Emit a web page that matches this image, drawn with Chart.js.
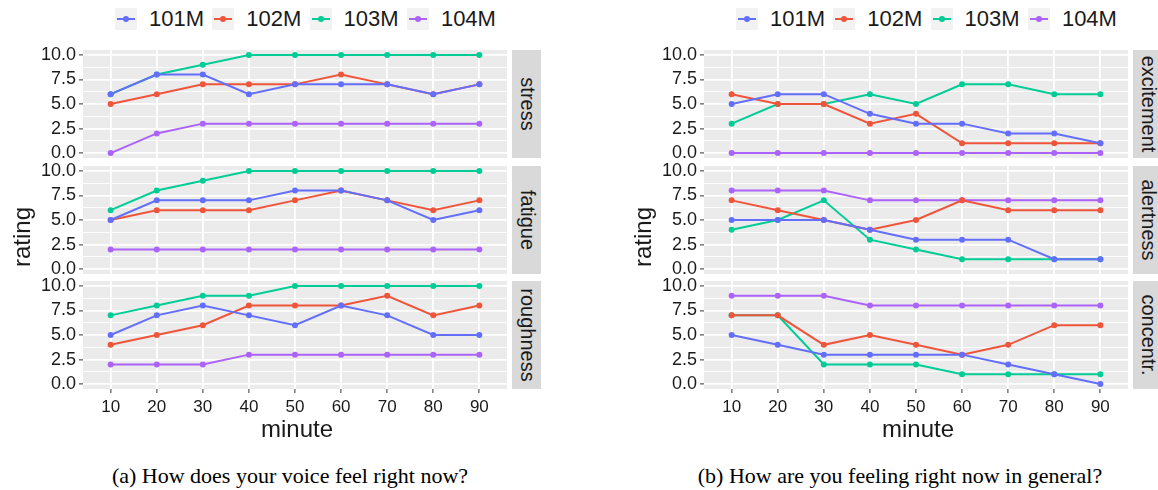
<!DOCTYPE html>
<html>
<head>
<meta charset="utf-8">
<script src="https://cdn.jsdelivr.net/npm/chart.js@4/dist/chart.umd.min.js"></script>
<style>
body { margin: 0; background: #fff; width: 1158px; height: 490px; position: relative; overflow: hidden;
  font-family: "Liberation Sans", Arial, sans-serif; color: #1a1a1a; }
canvas { position: absolute; }
.strip { position: absolute; background: #d9d9d9; width: 29px; height: 108px; }
.strip span { position: absolute; left: 50%; top: 50%; transform: translate(-50%, -50%) rotate(90deg);
  font-size: 20px; white-space: nowrap; }
.key { position: absolute; top: 8px; width: 22px; height: 22px; background: #f2f2f2; }
.key i { position: absolute; left: 2px; right: 2px; top: 10px; height: 1.8px; }
.key b { position: absolute; left: 8px; top: 8px; width: 6px; height: 6px; border-radius: 50%; }
.keytext { position: absolute; top: 8px; line-height: 22px; font-size: 22px; }
.xtitle { position: absolute; width: 200px; text-align: center; top: 415px; line-height: 28px; font-size: 24px; }
.ytitle { position: absolute; width: 120px; text-align: center; line-height: 28px; font-size: 24px;
  transform: translate(-50%, -50%) rotate(-90deg); }
.caption { position: absolute; width: 560px; text-align: center; top: 463px; line-height: 26px;
  font-family: "Liberation Serif", "Times New Roman", serif; font-size: 22px; color: #000; }
</style>
</head>
<body>
<script>
var minutes = [10, 20, 30, 40, 50, 60, 70, 80, 90];
var subjects = ["101M", "102M", "103M", "104M"];
var subjectColors = ["#636EFA", "#EF553B", "#00CC96", "#AB63FA"];
var yMajor = [0, 2.5, 5, 7.5, 10];
var yMinor = [1.25, 3.75, 6.25, 8.75];

// (a) voice, one row per subject
var stress = [
  [6, 8, 8, 6, 7, 7, 7, 6, 7],
  [5, 6, 7, 7, 7, 8, 7, 6, 7],
  [6, 8, 9, 10, 10, 10, 10, 10, 10],
  [0, 2, 3, 3, 3, 3, 3, 3, 3]
];
var fatigue = [
  [5, 7, 7, 7, 8, 8, 7, 5, 6],
  [5, 6, 6, 6, 7, 8, 7, 6, 7],
  [6, 8, 9, 10, 10, 10, 10, 10, 10],
  [2, 2, 2, 2, 2, 2, 2, 2, 2]
];
var roughness = [
  [5, 7, 8, 7, 6, 8, 7, 5, 5],
  [4, 5, 6, 8, 8, 8, 9, 7, 8],
  [7, 8, 9, 9, 10, 10, 10, 10, 10],
  [2, 2, 2, 3, 3, 3, 3, 3, 3]
];
// (b) general feeling
var excitement = [
  [5, 6, 6, 4, 3, 3, 2, 2, 1],
  [6, 5, 5, 3, 4, 1, 1, 1, 1],
  [3, 5, 5, 6, 5, 7, 7, 6, 6],
  [0, 0, 0, 0, 0, 0, 0, 0, 0]
];
var alertness = [
  [5, 5, 5, 4, 3, 3, 3, 1, 1],
  [7, 6, 5, 4, 5, 7, 6, 6, 6],
  [4, 5, 7, 3, 2, 1, 1, 1, 1],
  [8, 8, 8, 7, 7, 7, 7, 7, 7]
];
var concentr = [
  [5, 4, 3, 3, 3, 3, 2, 1, 0],
  [7, 7, 4, 5, 4, 3, 4, 6, 6],
  [7, 7, 2, 2, 2, 1, 1, 1, 1],
  [9, 9, 9, 8, 8, 8, 8, 8, 8]
];

var panels = [
  { x0: 0, names: ["stress", "fatigue", "roughness"], values: [stress, fatigue, roughness],
    caption: "(a) How does your voice feel right now?", capX: 290 },
  { x0: 621, names: ["excitement", "alertness", "concentr."], values: [excitement, alertness, concentr],
    caption: "(b) How are you feeling right now in general?", capX: 900 }
];

Chart.defaults.font.family = '"Liberation Sans", Arial, sans-serif';
Chart.defaults.color = "#1a1a1a";

var panelBg = {
  id: "panelBg",
  beforeDraw: function(chart) {
    var a = chart.chartArea, g = chart.ctx;
    g.save();
    g.fillStyle = "#EBEBEB";
    g.fillRect(a.left, a.top, a.right - a.left, a.bottom - a.top);
    g.restore();
  }
};

function isMajor(ctx) {
  return ctx.tick && yMajor.indexOf(ctx.tick.value) >= 0;
}

function makeFacet(left, top, rows, bottom) {
  var padTop = 12, xAxisH = bottom ? 30 : 0;
  var w = 511, h = padTop + 108 + (bottom ? xAxisH : 12);
  var c = document.createElement("canvas");
  c.width = w; c.height = h;
  c.style.left = left + "px"; c.style.top = (top - padTop) + "px";
  c.style.width = w + "px"; c.style.height = h + "px";
  document.body.appendChild(c);

  var datasets = rows.map(function(vals, i) {
    return {
      label: subjects[i],
      data: minutes.map(function(m, j) { return { x: m, y: vals[j] }; }),
      borderColor: subjectColors[i],
      backgroundColor: subjectColors[i],
      borderWidth: 2,
      pointRadius: 3,
      pointBorderWidth: 0,
      tension: 0
    };
  });

  new Chart(c, {
    type: "line",
    data: { datasets: datasets },
    plugins: [panelBg],
    options: {
      responsive: false,
      animation: false,
      events: [],
      layout: { padding: { top: padTop, bottom: bottom ? 0 : 12, left: 0, right: 0 } },
      plugins: { legend: { display: false }, tooltip: { enabled: false } },
      scales: {
        x: {
          type: "linear", min: 4, max: 96,
          afterBuildTicks: function(s) { s.ticks = minutes.map(function(m) { return { value: m }; }); },
          afterFit: function(s) { s.height = xAxisH; s.paddingLeft = 0; s.paddingRight = 0; },
          grid: { color: "#fff", lineWidth: 1.8, drawTicks: bottom, tickLength: 4, tickColor: "#333", tickWidth: 1 },
          border: { display: false },
          ticks: { display: bottom, font: { size: 17 }, color: "#1a1a1a", padding: 4, maxRotation: 0, autoSkip: false }
        },
        y: {
          min: -0.5, max: 10.5,
          afterBuildTicks: function(s) {
            s.ticks = yMajor.concat(yMinor).sort(function(a, b) { return a - b; })
              .map(function(v) { return { value: v }; });
          },
          afterFit: function(s) { s.width = 83; s.paddingTop = 0; s.paddingBottom = 0; },
          grid: {
            color: "#fff",
            lineWidth: function(ctx) { return isMajor(ctx) ? 1.8 : 0.9; },
            tickLength: 4,
            tickColor: function(ctx) { return isMajor(ctx) ? "#333" : "rgba(0,0,0,0)"; },
            tickWidth: 1
          },
          border: { display: false },
          ticks: {
            font: { size: 18 }, color: "#1a1a1a", padding: 3, autoSkip: false,
            callback: function(v) { return yMajor.indexOf(v) >= 0 ? v.toFixed(1) : ""; }
          }
        }
      }
    }
  });
}

function addDiv(cls, html, css) {
  var d = document.createElement("div");
  d.className = cls;
  d.innerHTML = html;
  for (var k in css) d.style[k] = css[k];
  document.body.appendChild(d);
  return d;
}

panels.forEach(function(p) {
  // facets
  p.names.forEach(function(name, i) {
    var top = 50 + i * 115.5;
    makeFacet(p.x0, top, p.values[i], i === 2);
    addDiv("strip", "<span>" + name + "</span>", { left: (p.x0 + 512) + "px", top: top + "px" });
  });
  // legend
  subjects.forEach(function(s, i) {
    var kx = p.x0 + 115 + i * 97.3;
    addDiv("key", '<i style="background:' + subjectColors[i] + '"></i><b style="background:' + subjectColors[i] + '"></b>',
      { left: kx + "px" });
    addDiv("keytext", s, { left: (kx + 34) + "px" });
  });
  addDiv("xtitle", "minute", { left: (p.x0 + 197) + "px" });
  addDiv("ytitle", "rating", { left: (p.x0 + 22) + "px", top: "237px" });
  addDiv("caption", p.caption, { left: (p.capX - 280) + "px" });
});
</script>
</body>
</html>
